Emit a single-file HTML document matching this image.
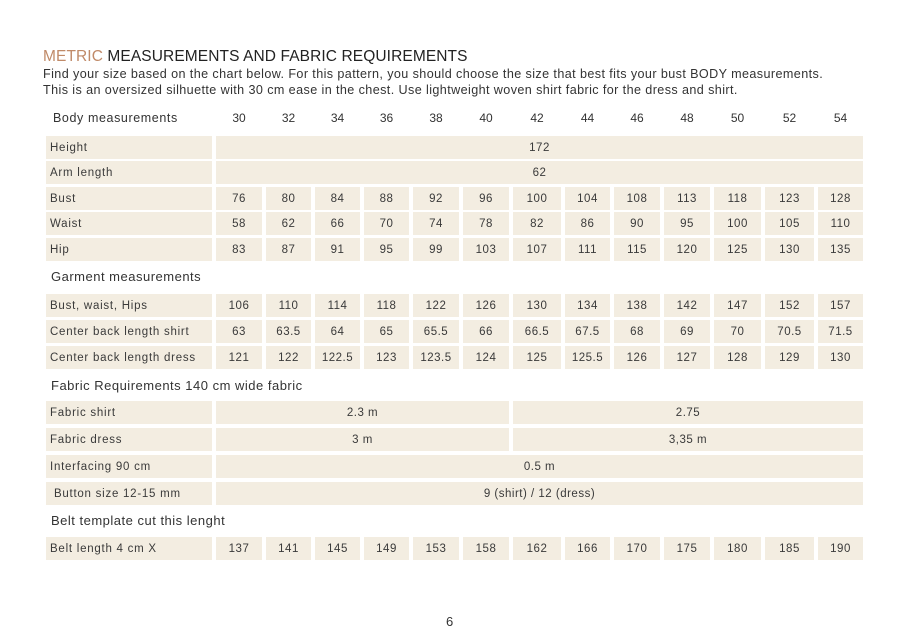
<!DOCTYPE html>
<html><head><meta charset="utf-8"><style>
body{margin:0;background:#fff;width:900px;height:634px;position:relative;overflow:hidden;font-family:"Liberation Sans",sans-serif;color:#333}
.t{position:absolute;white-space:nowrap}
.c{position:absolute;background:#f3ede1;height:23px;line-height:24px;font-size:11.5px;letter-spacing:0.5px;color:#3a3a3a;text-align:center}
.l{text-align:left;padding-left:4px;box-sizing:border-box;font-size:11.5px;letter-spacing:0.75px}
</style></head><body>
<div class="t" style="left:43px;top:48px;font-size:15.5px;color:#222;letter-spacing:0.1px"><span style="color:#c08a68">METRIC</span> MEASUREMENTS AND FABRIC REQUIREMENTS</div>
<div class="t" style="left:43px;top:67px;font-size:12.6px;letter-spacing:0.4px;color:#333">Find your size based on the chart below. For this pattern, you should choose the size that best fits your bust BODY measurements.</div>
<div class="t" style="left:43px;top:83px;font-size:12.6px;letter-spacing:0.4px;color:#333">This is an oversized silhuette with 30 cm ease in the chest. Use lightweight woven shirt fabric for the dress and shirt.</div>
<div id="g"></div>
<div class="t" style="left:446px;top:614px;font-size:13px">6</div>
<script>
const L=[216,266,315,364,413,463,513,565,614,664,714,765,818];
const W=L.map((x,i)=>i<12?L[i+1]-x-4:45);
let h='';
function hdr(y,txt){h+=`<div class="t" style="left:51px;top:${y-8}px;font-size:13px;letter-spacing:0.5px;color:#333">${txt}</div>`;}
function lab(y,txt){h+=`<div class="c l" style="left:46px;top:${y-11}px;width:166px">${txt}</div>`;}
function row(y,txt,vals){lab(y,txt);vals.forEach((v,i)=>{h+=`<div class="c" style="left:${L[i]}px;top:${y-11}px;width:${W[i]}px">${v}</div>`;});}
function span(y,txt,a,b,v){h+=`<div class="c" style="left:${L[a]}px;top:${y-11}px;width:${L[b]+W[b]-L[a]}px">${v}</div>`;}
h+=`<div class="t" style="left:53px;top:111px;font-size:12.5px;letter-spacing:0.6px">Body measurements</div>`;
[30,32,34,36,38,40,42,44,46,48,50,52,54].forEach((v,i)=>{h+=`<div class="t" style="left:${L[i]}px;width:${W[i]}px;text-align:center;top:111px;font-size:12px">${v}</div>`;});
lab(147,'Height');span(147,'',0,12,'172');
lab(172,'Arm length');span(172,'',0,12,'62');
row(198,'Bust',[76,80,84,88,92,96,100,104,108,113,118,123,128]);
row(223,'Waist',[58,62,66,70,74,78,82,86,90,95,100,105,110]);
row(249,'Hip',[83,87,91,95,99,103,107,111,115,120,125,130,135]);
hdr(277,'Garment measurements');
row(305,'Bust, waist, Hips',[106,110,114,118,122,126,130,134,138,142,147,152,157]);
row(331,'Center back length shirt',[63,63.5,64,65,65.5,66,66.5,67.5,68,69,70,70.5,71.5]);
row(357,'Center back length dress',[121,122,122.5,123,123.5,124,125,125.5,126,127,128,129,130]);
hdr(386,'Fabric Requirements 140 cm wide fabric');
lab(412,'Fabric shirt');span(412,'',0,5,'2.3 m');span(412,'',6,12,'2.75');
lab(439,'Fabric dress');span(439,'',0,5,'3 m');span(439,'',6,12,'3,35 m');
lab(466,'Interfacing 90 cm');span(466,'',0,12,'0.5 m');
lab(493,'&nbsp;Button size 12-15 mm');span(493,'',0,12,'9 (shirt) / 12 (dress)');
hdr(521,'Belt template cut this lenght');
row(548,'Belt length 4 cm X',[137,141,145,149,153,158,162,166,170,175,180,185,190]);
document.getElementById('g').innerHTML=h;
</script>
</body></html>
